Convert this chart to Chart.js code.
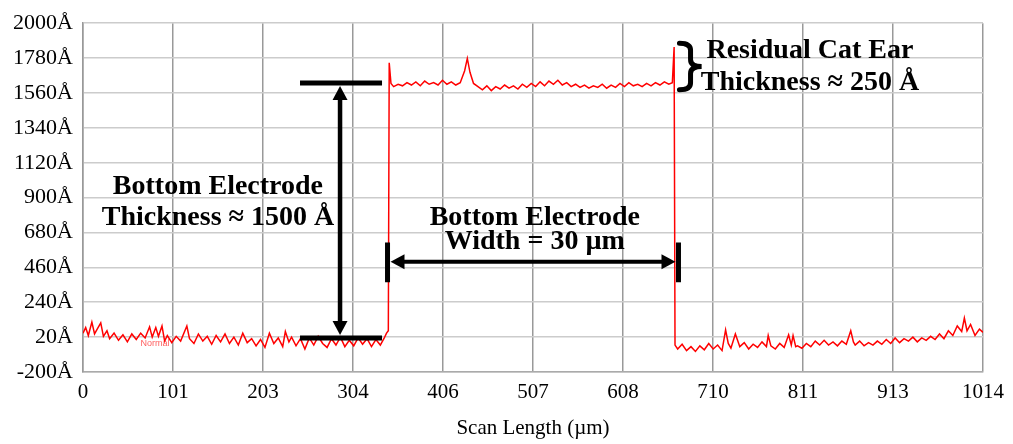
<!DOCTYPE html>
<html>
<head>
<meta charset="utf-8">
<script src="https://cdn.jsdelivr.net/npm/chart.js@4/dist/chart.umd.min.js"></script>
<style>
  body { margin: 0; background: #fff; }
  canvas { display: block; }
</style>
</head>
<body>
<canvas id="myChart" width="1013" height="444"></canvas>
<script>
// tick labels
const xTickLabels = ["0", "101", "203", "304", "406", "507", "608", "710", "811", "913", "1014"];
const yTickLabels = ["-200Å", "20Å", "240Å", "460Å", "680Å", "900Å", "1120Å", "1340Å", "1560Å", "1780Å", "2000Å"];

// scan position (µm)
const scanX = [
    // left substrate
    0, 3, 6, 10, 13, 16, 20, 23, 27, 30,
    35, 40, 45, 50, 55, 60, 65, 70, 75, 78,
    82, 85, 89, 92, 95, 100, 105, 110, 117, 120,
    125, 130, 135, 140, 145, 150, 155, 160, 165, 170,
    175, 180, 185, 190, 195, 200, 205, 210, 215, 220,
    225, 228, 232, 235, 240, 245, 250, 255, 260, 265,
    270, 275, 280, 285, 290, 295, 300, 305, 310, 315,
    320, 325, 330, 335, 339, 342, 344,
    // electrode top
    345, 347, 350, 355, 360, 365, 370, 375, 380, 385,
    390, 395, 400, 405, 410, 415, 420, 425, 430, 433,
    436, 440, 445, 450, 455, 460, 465, 470, 475, 480,
    485, 490, 495, 500, 505, 510, 515, 520, 525, 530,
    535, 540, 545, 550, 555, 560, 565, 570, 575, 580,
    585, 590, 595, 600, 605, 610, 615, 620, 625, 630,
    635, 640, 645, 650, 655, 660, 664, 666,
    // right substrate
    667, 670, 675, 680, 685, 690, 695, 700, 705, 710,
    715, 720, 724, 727, 730, 735, 740, 745, 750, 755,
    760, 765, 770, 772, 775, 780, 785, 790, 795, 798,
    800, 803, 805, 810, 815, 820, 825, 830, 835, 840,
    845, 850, 855, 860, 865, 868, 870, 875, 880, 885,
    890, 895, 900, 905, 910, 915, 920, 925, 930, 935,
    940, 945, 950, 955, 960, 965, 970, 975, 980, 985,
    990, 993, 996, 1000, 1005, 1010, 1014
];

// measured height (Å)
const height = [
    45, 80, 30, 115, 40, 70, 110, 25, 60, 10,
    45, 0, 35, -10, 40, 5, 45, 15, 85, 20,
    80, 25, 90, -5, 30, -15, 25, -5, 90, 10,
    -20, 40, -5, 25, -25, 30, -10, 40, -20, 20,
    -30, 45, -15, 10, -35, 5, -45, 45, -20, 15,
    -40, 55, -10, 20, -35, 10, -55, 15, -30, 25,
    -20, -45, 10, -30, 20, -40, 0, -35, 15, -25,
    10, -40, 5, -30, 10, 45, 60,

    1750, 1620, 1600, 1615, 1605, 1625, 1610, 1630, 1605, 1635,
    1615, 1625, 1610, 1640, 1615, 1630, 1610, 1625, 1700, 1778,
    1690, 1620, 1600, 1580, 1605, 1575, 1600, 1585, 1610, 1590,
    1605, 1585, 1615, 1595, 1620, 1600, 1630, 1605, 1635, 1615,
    1640, 1610, 1625, 1600, 1615, 1595, 1610, 1590, 1605, 1595,
    1615, 1590, 1610, 1595, 1620, 1600, 1625, 1605, 1615, 1600,
    1620, 1605, 1625, 1610, 1630, 1615, 1625, 1850,

    -30, -55, -25, -65, -40, -70, -35, -60, -20, -55,
    -30, -65, 65, -20, -50, 40, -40, -15, -55, -25,
    -45, -10, -40, 30, -35, -55, -20, -45, 35, -30,
    30, -40, -35, -50, -20, -40, -5, -30, 0, -30,
    -10, -35, -5, -25, 60, -10, -30, -5, -35, -15,
    -30, -5, -25, 5, -20, 15, -15, 10, -5, 20,
    -10, 15, 0, 25, 5, 40, 10, 60, 30, 90,
    55, 140, 60, 100, 30, 70, 50
];

const points = scanX.map((x, i) => ({ x: x, y: height[i] }));

const serif = "'Liberation Serif', 'Times New Roman', serif";

// annotation anchors, in data units (µm, Å)
const thickArrow = { x: 289.6, low: 14, high: 1623, barFrom: 244.5, barTo: 336.9 };
const widthArrow = { y: 495, left: 343.1, right: 670.9, barLow: 366, barHigh: 617 };
const brace = { x: 672, tipX: 697, top: 1874, bottom: 1580 };

const labels = [
    { text: "Bottom Electrode", x: 152, y: 925 },
    { text: "Thickness ≈ 1500 Å", x: 152, y: 730 },
    { text: "Bottom Electrode", x: 509, y: 730 },
    { text: "Width = 30 µm", x: 509, y: 573 },
    { text: "Residual Cat Ear", x: 819, y: 1780 },
    { text: "Thickness ≈ 250 Å", x: 819, y: 1579 }
];

function arrowHead(ctx, tx, ty, dx, dy) {
    // tip at (tx, ty), pointing along (dx, dy)
    const len = 14, half = 7.5;
    const bx = tx - dx * len, by = ty - dy * len;
    ctx.beginPath();
    ctx.moveTo(tx, ty);
    ctx.lineTo(bx - dy * half, by + dx * half);
    ctx.lineTo(bx + dy * half, by - dx * half);
    ctx.closePath();
    ctx.fill();
}

const annotate = {
    id: "annotate",
    afterDatasetsDraw(chart) {
        const ctx = chart.ctx;
        const xs = chart.scales.x, ys = chart.scales.y;
        const px = v => xs.getPixelForValue(v);
        const py = v => ys.getPixelForValue(v);
        ctx.save();
        ctx.strokeStyle = "#000";
        ctx.fillStyle = "#000";

        // thickness arrow
        ctx.lineWidth = 5;
        ctx.beginPath();
        ctx.moveTo(px(thickArrow.barFrom), py(thickArrow.high));
        ctx.lineTo(px(thickArrow.barTo), py(thickArrow.high));
        ctx.moveTo(px(thickArrow.barFrom), py(thickArrow.low));
        ctx.lineTo(px(thickArrow.barTo), py(thickArrow.low));
        ctx.stroke();
        const ax = px(thickArrow.x);
        const top = py(thickArrow.high) + 3, bot = py(thickArrow.low) - 3;
        ctx.lineWidth = 4.5;
        ctx.beginPath();
        ctx.moveTo(ax, top + 10);
        ctx.lineTo(ax, bot - 10);
        ctx.stroke();
        arrowHead(ctx, ax, top, 0, -1);
        arrowHead(ctx, ax, bot, 0, 1);

        // width arrow
        ctx.lineWidth = 5;
        ctx.beginPath();
        ctx.moveTo(px(widthArrow.left), py(widthArrow.barHigh));
        ctx.lineTo(px(widthArrow.left), py(widthArrow.barLow));
        ctx.moveTo(px(widthArrow.right), py(widthArrow.barHigh));
        ctx.lineTo(px(widthArrow.right), py(widthArrow.barLow));
        ctx.stroke();
        const wy = py(widthArrow.y);
        const wl = px(widthArrow.left) + 3, wr = px(widthArrow.right) - 3;
        ctx.lineWidth = 4;
        ctx.beginPath();
        ctx.moveTo(wl + 10, wy);
        ctx.lineTo(wr - 10, wy);
        ctx.stroke();
        arrowHead(ctx, wl, wy, -1, 0);
        arrowHead(ctx, wr, wy, 1, 0);

        // brace
        const bx0 = px(brace.x), bt = px(brace.tipX);
        const bm = (bx0 + bt) / 2;
        const yT = py(brace.top), yB = py(brace.bottom), yM = (yT + yB) / 2;
        const r = 7;
        ctx.lineWidth = 5;
        ctx.lineCap = "round";
        ctx.beginPath();
        ctx.moveTo(bx0, yT);
        ctx.quadraticCurveTo(bm, yT, bm, yT + r);
        ctx.lineTo(bm, yM - r);
        ctx.quadraticCurveTo(bm, yM, bt, yM);
        ctx.quadraticCurveTo(bm, yM, bm, yM + r);
        ctx.lineTo(bm, yB - r);
        ctx.quadraticCurveTo(bm, yB, bx0, yB);
        ctx.stroke();

        // texts
        ctx.font = "bold 28px " + serif;
        ctx.textAlign = "center";
        ctx.textBaseline = "alphabetic";
        labels.forEach(l => ctx.fillText(l.text, px(l.x), py(l.y)));

        // faint profiler marker
        ctx.font = "9px 'Liberation Sans', Arial, sans-serif";
        ctx.fillStyle = "rgba(255, 40, 40, 0.75)";
        ctx.textBaseline = "middle";
        ctx.fillText("Normal", px(81), py(-18));
        ctx.restore();
    }
};

const ctx = document.getElementById("myChart").getContext("2d");
new Chart(ctx, {
    type: "line",
    data: {
        datasets: [
            {
                label: "Profile",
                data: points,
                borderColor: "#ff0000",
                borderWidth: 1.5,
                pointRadius: 0,
                fill: false,
                tension: 0,
            },
        ],
    },
    options: {
        responsive: false,
        animation: false,
        devicePixelRatio: 1,
        layout: { padding: { top: 22, right: 30, bottom: 0, left: 0 } },
        plugins: { legend: { display: false }, tooltip: { enabled: false } },
        scales: {
            x: {
                type: "linear",
                min: 0,
                max: 1014,
                afterFit: s => { s.height = 72; },
                ticks: {
                    stepSize: 101.4,
                    autoSkip: false,
                    maxRotation: 0,
                    padding: 8,
                    color: "#000",
                    font: { family: serif, size: 21 },
                    callback: (v, i) => xTickLabels[i],
                },
                grid: { color: "#999", lineWidth: 1.5, drawTicks: false },
                border: { color: "#aaa", width: 1.5 },
                title: {
                    display: true,
                    text: "Scan Length (µm)",
                    color: "#000",
                    font: { family: serif, size: 21 },
                    padding: { top: 4, bottom: 3 },
                },
            },
            y: {
                min: -200,
                max: 2000,
                afterFit: s => { s.width = 83; },
                ticks: {
                    stepSize: 220,
                    padding: 10,
                    color: "#000",
                    font: { family: serif, size: 22 },
                    callback: (v, i) => yTickLabels[i],
                },
                grid: { color: "#ccc", lineWidth: 1.5, drawTicks: false },
                border: { color: "#999", width: 1.5 },
            },
        },
    },
    plugins: [annotate],
});
</script>
</body>
</html>
